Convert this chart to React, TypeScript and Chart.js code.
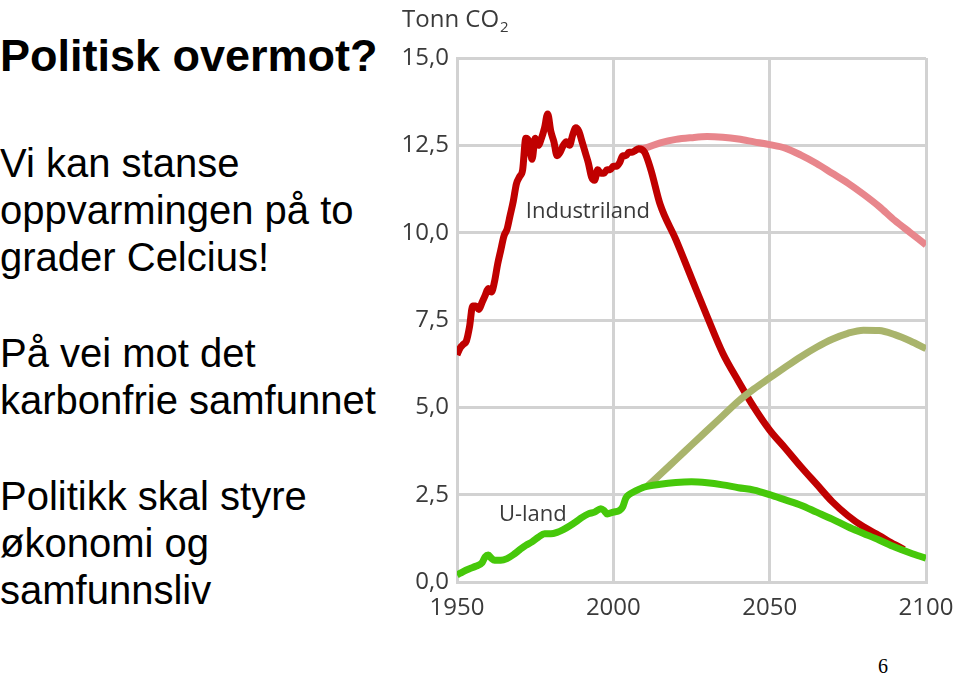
import React, { useEffect, useRef } from "react";
import { Chart, registerables } from "chart.js";

Chart.register(...registerables);

// ---- data ----
const industrilandYears = [
  1950, 1951, 1952, 1953, 1954, 1955, 1956, 1957, 1958, 1959, 1960, 1961, 1962, 1963, 1964, 1965,
  1966, 1967, 1968, 1969, 1970, 1971, 1972, 1973, 1974, 1975, 1976, 1977, 1978, 1979, 1980, 1981,
  1982, 1983, 1984, 1985, 1986, 1987, 1988, 1989, 1990, 1991, 1992, 1993, 1994, 1995, 1996, 1997,
  1998, 1999, 2000, 2001, 2002, 2003, 2004, 2005, 2006, 2007, 2008, 2010, 2012, 2015, 2020, 2025,
  2030, 2035, 2040, 2045, 2050, 2055, 2060, 2065, 2070, 2075, 2080, 2085, 2090, 2093,
];
const industrilandValues = [
  6.5, 6.7, 6.8, 6.9, 7.3, 7.9, 7.9, 7.8, 8.0, 8.2, 8.4, 8.3, 8.6, 9.1, 9.5, 9.9,
  10.1, 10.5, 10.9, 11.4, 11.6, 11.8, 12.7, 12.6, 12.1, 12.7, 12.5, 12.7, 13.0, 13.4, 12.9, 12.6,
  12.2, 12.3, 12.5, 12.6, 12.5, 12.8, 13.0, 12.9, 12.6, 12.3, 12.0, 11.6, 11.5, 11.8, 11.7, 11.7,
  11.8, 11.8, 11.9, 11.9, 12.0, 12.2, 12.2, 12.3, 12.3, 12.35, 12.4, 12.3, 11.8, 10.8, 9.8, 8.7,
  7.6, 6.55, 5.75, 5.0, 4.35, 3.83, 3.3, 2.8, 2.3, 1.9, 1.58, 1.33, 1.07, 0.93,
];

const industrilandBaseYears = [2008, 2010, 2015, 2020, 2025, 2030, 2035, 2040, 2045, 2050, 2055, 2060, 2065, 2070, 2075, 2080, 2085, 2090, 2095, 2100];
const industrilandBaseValues = [12.4, 12.42, 12.57, 12.67, 12.72, 12.75, 12.73, 12.68, 12.6, 12.52, 12.42, 12.22, 11.98, 11.7, 11.42, 11.1, 10.75, 10.35, 10.0, 9.65];

const ulandYears = [
  1950, 1952, 1954, 1956, 1958, 1959, 1960, 1961, 1962, 1964, 1966, 1968, 1970, 1972, 1974, 1976,
  1978, 1980, 1982, 1984, 1986, 1988, 1990, 1992, 1994, 1996, 1997, 1998, 2000, 2002, 2003, 2004,
  2005, 2007, 2010, 2015, 2020, 2025, 2030, 2035, 2040, 2045, 2050, 2055, 2060, 2065, 2070, 2075,
  2080, 2085, 2090, 2095, 2100,
];
const ulandValues = [
  0.2, 0.3, 0.38, 0.45, 0.55, 0.72, 0.77, 0.68, 0.62, 0.62, 0.67, 0.78, 0.92, 1.05, 1.15, 1.28,
  1.38, 1.38, 1.42, 1.5, 1.6, 1.72, 1.85, 1.95, 2.0, 2.1, 2.05, 1.95, 2.0, 2.05, 2.15, 2.4,
  2.5, 2.6, 2.72, 2.8, 2.85, 2.87, 2.84, 2.78, 2.7, 2.63, 2.5, 2.35, 2.2, 2.0, 1.8, 1.58,
  1.39, 1.2, 1.0, 0.83, 0.68,
];

const ulandBaseYears = [2011, 2015, 2020, 2025, 2030, 2035, 2040, 2045, 2050, 2055, 2060, 2065, 2070, 2075, 2080, 2085, 2090, 2095, 2100];
const ulandBaseValues = [2.75, 3.08, 3.5, 3.92, 4.34, 4.76, 5.18, 5.53, 5.84, 6.15, 6.45, 6.72, 6.95, 7.12, 7.21, 7.2, 7.08, 6.9, 6.68];

const xTickYears = [1950, 2000, 2050, 2100];
const yTickValues = [0, 2.5, 5, 7.5, 10, 12.5, 15];

const yAxisTitle = "Tonn CO";
const yAxisTitleSub = "2";
const labelIndustriland = { text: "Industriland", x: 1972, y: 10.42 };
const labelUland = { text: "U-land", x: 1963.4, y: 1.75 };

const zip = (xs: number[], ys: number[]) => xs.map((x, i) => ({ x, y: ys[i] }));

const textPlugin = {
  id: "textPlugin",
  afterDraw(chart: any) {
    const { ctx, scales, chartArea } = chart;
    const xs = scales.x;
    const ys = scales.y;
    ctx.save();
    ctx.fillStyle = "#3a3a3a";
    ctx.textBaseline = "alphabetic";
    ctx.textAlign = "left";
    ctx.font = "22px 'Open Sans'";
    ctx.fillText(labelIndustriland.text, xs.getPixelForValue(labelIndustriland.x), ys.getPixelForValue(labelIndustriland.y));
    ctx.fillText(labelUland.text, xs.getPixelForValue(labelUland.x), ys.getPixelForValue(labelUland.y));
    // axis title
    ctx.font = "24px 'Open Sans'";
    const tx = chartArea.left - 55;
    const ty = chartArea.top - 31;
    ctx.fillText(yAxisTitle, tx, ty);
    const w = ctx.measureText(yAxisTitle).width;
    ctx.font = "15px 'Open Sans'";
    ctx.fillText(yAxisTitleSub, tx + w + 1, ty + 5);
    ctx.restore();
  },
};

function ChartView() {
  const ref = useRef<HTMLCanvasElement | null>(null);
  useEffect(() => {
    if (!ref.current) return;
    const gridColor = "#d2d2d2";
    const chart = new Chart(ref.current, {
      type: "line",
      data: {
        datasets: [
          {
            label: "U-land",
            data: zip(ulandYears, ulandValues),
            borderColor: "#46c80a",
            borderWidth: 7,
            pointRadius: 0,
            cubicInterpolationMode: "monotone",
            order: 1,
          },
          {
            label: "U-land referanse",
            data: zip(ulandBaseYears, ulandBaseValues),
            borderColor: "#a9b46c",
            borderWidth: 7,
            pointRadius: 0,
            cubicInterpolationMode: "monotone",
            order: 2,
          },
          {
            label: "Industriland",
            data: zip(industrilandYears, industrilandValues),
            borderColor: "#c00000",
            borderWidth: 7,
            pointRadius: 0,
            cubicInterpolationMode: "monotone",
            order: 3,
          },
          {
            label: "Industriland referanse",
            data: zip(industrilandBaseYears, industrilandBaseValues),
            borderColor: "#e8868c",
            borderWidth: 7,
            pointRadius: 0,
            cubicInterpolationMode: "monotone",
            order: 4,
          },
        ],
      },
      options: {
        animation: false,
        responsive: false,
        devicePixelRatio: 1,
        layout: { padding: { top: 58, right: 34, left: 0, bottom: 0 } },
        plugins: { legend: { display: false }, tooltip: { enabled: false }, title: { display: false } },
        scales: {
          x: {
            type: "linear",
            min: 1950,
            max: 2100,
            afterBuildTicks: (scale: any) => {
              scale.ticks = xTickYears.map((v) => ({ value: v }));
            },
            afterFit: (scale: any) => {
              scale.height = 58;
              scale.paddingLeft = 0;
              scale.paddingRight = 0;
            },
            grid: { color: gridColor, lineWidth: 3, drawTicks: false },
            border: { color: gridColor, width: 3 },
            ticks: {
              padding: 12,
              color: "#3a3a3a",
              font: { family: "'Open Sans'", size: 24 },
              maxRotation: 0,
              callback: (v: any) => String(v),
            },
          },
          y: {
            type: "linear",
            min: 0,
            max: 15,
            afterBuildTicks: (scale: any) => {
              scale.ticks = yTickValues.map((v) => ({ value: v }));
            },
            afterFit: (scale: any) => {
              scale.width = 62;
              scale.paddingTop = 0;
              scale.paddingBottom = 0;
            },
            grid: { color: gridColor, lineWidth: 3, drawTicks: false },
            border: { color: gridColor, width: 3 },
            ticks: {
              padding: 8,
              color: "#3a3a3a",
              font: { family: "'Open Sans'", size: 24 },
              callback: (v: any) => Number(v).toFixed(1).replace(".", ","),
            },
          },
        },
      },
      plugins: [textPlugin],
    } as any);
    return () => chart.destroy();
  }, []);
  return <canvas ref={ref} width={565} height={640} style={{ position: "absolute", left: 395, top: 0, width: 565, height: 640 }} />;
}

const lineStyle: React.CSSProperties = {
  position: "absolute",
  left: 0,
  margin: 0,
  fontFamily: "'Liberation Sans', Arial, sans-serif",
  fontSize: 40,
  lineHeight: "47px",
  color: "#000",
  whiteSpace: "nowrap",
};

export default function App() {
  return (
    <div style={{ position: "absolute", left: 0, top: 0, width: 960, height: 674, background: "#fff", overflow: "hidden" }}>
      <div style={{ ...lineStyle, top: 30, fontSize: 45, fontWeight: "bold", lineHeight: "52px" }}>Politisk overmot?</div>
      <div style={{ ...lineStyle, top: 140 }}>
        Vi kan stanse<br />oppvarmingen på to<br />grader Celcius!
      </div>
      <div style={{ ...lineStyle, top: 330 }}>
        På vei mot det<br />karbonfrie samfunnet
      </div>
      <div style={{ ...lineStyle, top: 473 }}>
        Politikk skal styre<br />økonomi og<br />samfunnsliv
      </div>
      <ChartView />
      <div style={{ position: "absolute", left: 878, top: 655, fontFamily: "'Liberation Serif', 'Times New Roman', serif", fontSize: 20, lineHeight: "22px", color: "#000" }}>6</div>
    </div>
  );
}
